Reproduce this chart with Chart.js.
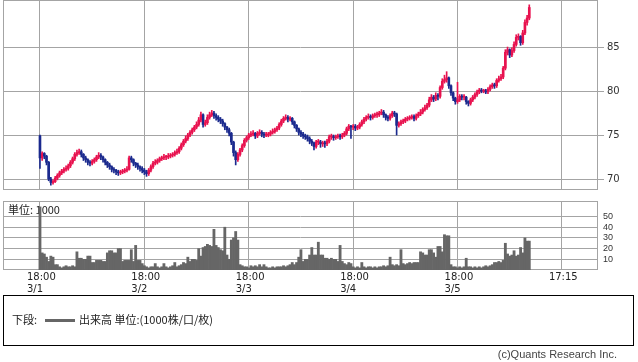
<!DOCTYPE html>
<html>
<head>
<meta charset="utf-8">
<script src="https://cdn.jsdelivr.net/npm/chart.js@4"></script>
<style>
  body { margin: 0; background: #fff; }
  #wrap { position: relative; width: 638px; height: 362px; }
  #wrap canvas { position: absolute; left: 0; top: 0; }
  #legend { position: absolute; left: 3px; top: 295px; width: 629px; height: 49px; border: 1px solid #000;
            font: 11px "Noto Sans CJK JP", sans-serif; color: #222; }
  #legend .lbl { position: absolute; left: 8px; top: 15px; }
  #legend .swatch { position: absolute; left: 41px; top: 23px; width: 30px; height: 3px; background: #666; }
  #legend .txt { position: absolute; left: 75px; top: 15px; }
  #copy { position: absolute; right: 21px; top: 348px; font: 11px "Liberation Sans", sans-serif; color: #444; }
</style>
</head>
<body>
<div id="wrap">
  <canvas id="priceChart" width="638" height="362"></canvas>
  <canvas id="volChart" width="638" height="362"></canvas>
  <div id="legend"><span class="lbl">下段:</span><span class="swatch"></span><span class="txt">出来高 単位:(1000株/口/枚)</span></div>
  <div id="copy">(c)Quants Research Inc.</div>
</div>
<script>
// 30分足, slot 0 = 3/1 18:00
const firstOpen = 74.9;
const closes = [
  72.4, 72.9, 72.6, 71.9, 70.0, 69.6, 69.7, 70.1, 70.4, 70.7,
  70.9, 71.1, 71.2, 71.5, 71.9, 72.3, 72.8, 73.0, 73.1, 72.8,
  72.4, 72.2, 71.9, 71.8, 72.0, 72.2, 72.5, 72.7, 72.5, 72.2,
  71.9, 71.6, 71.4, 71.1, 71.0, 70.8, 70.7, 70.8, 70.9, 71.0,
  71.1, 72.4, 72.2, 71.8, 71.6, 71.4, 71.2, 71.0, 70.8, 70.6,
  71.0, 71.4, 71.8, 71.9, 72.1, 72.3, 72.4, 72.5, 72.5, 72.6,
  72.7, 72.8, 73.0, 73.1, 73.5, 73.9, 74.3, 74.6, 75.0, 75.3,
  75.6, 75.9, 76.2, 76.7, 77.3, 76.2, 76.4, 77.0, 77.3, 77.5,
  77.2, 77.0, 76.8, 76.6, 76.3, 75.9, 75.6, 75.2, 74.2, 73.0,
  72.2, 72.8, 73.3, 73.8, 74.4, 74.7, 75.0, 75.1, 75.2, 74.9,
  75.2, 75.3, 75.1, 75.0, 75.0, 75.1, 75.3, 75.4, 75.6, 75.8,
  76.2, 76.6, 76.9, 77.0, 76.8, 76.9, 76.5, 76.1, 75.7, 75.3,
  75.1, 74.9, 74.8, 74.6, 74.3, 74.1, 73.7, 74.2, 74.2, 74.0,
  74.1, 74.0, 74.3, 74.8, 74.8, 74.7, 74.8, 74.9, 74.8, 75.0,
  75.2, 75.7, 76.0, 75.9, 76.0, 75.8, 75.9, 76.2, 76.5, 76.8,
  77.0, 77.1, 77.0, 77.2, 77.3, 77.3, 77.5, 77.6, 77.3, 77.0,
  76.9, 77.2, 77.5, 77.4, 76.1, 76.3, 76.5, 76.6, 76.8, 76.9,
  77.0, 77.1, 76.9, 77.2, 77.4, 77.6, 77.9, 78.1, 78.4, 79.0,
  79.3, 79.1, 79.5, 79.4, 80.4, 81.1, 81.3, 81.5, 80.6, 79.8,
  79.2, 78.8, 79.0, 79.4, 79.3, 79.3, 78.8, 78.6, 79.0, 79.3,
  79.6, 79.9, 80.1, 80.0, 80.0, 79.9, 80.2, 80.5, 80.7, 80.6,
  81.2, 81.4, 81.6, 82.6, 84.4, 84.7, 84.1, 84.6, 85.3, 86.1,
  86.2, 85.5, 86.6, 87.8, 88.3, 89.5
];
const highs = [
  75.0, 73.1, 73.0, 72.7, 72.0, 70.2, 69.9, 70.3, 70.6, 70.9,
  71.1, 71.3, 71.5, 71.7, 72.1, 72.5, 73.0, 73.3, 73.4, 73.3,
  72.9, 72.6, 72.3, 72.1, 72.2, 72.4, 72.7, 73.0, 72.9, 72.6,
  72.3, 72.0, 71.8, 71.5, 71.3, 71.1, 71.0, 71.0, 71.1, 71.2,
  71.4, 72.6, 72.6, 72.3, 71.9, 71.8, 71.5, 71.4, 71.2, 71.0,
  71.2, 71.6, 72.0, 72.2, 72.3, 72.5, 72.6, 72.8, 72.7, 72.9,
  72.9, 73.0, 73.2, 73.4, 73.7, 74.1, 74.5, 74.9, 75.2, 75.5,
  75.8, 76.1, 76.5, 77.0, 77.6, 77.4, 76.7, 77.3, 77.6, 77.8,
  77.7, 77.4, 77.2, 77.0, 76.8, 76.4, 76.0, 75.8, 75.3, 74.3,
  73.2, 73.0, 73.5, 74.0, 74.6, 74.9, 75.2, 75.4, 75.5, 75.3,
  75.4, 75.6, 75.5, 75.3, 75.3, 75.3, 75.5, 75.7, 75.8, 76.0,
  76.4, 76.8, 77.1, 77.3, 77.2, 77.1, 77.0, 76.6, 76.2, 75.8,
  75.5, 75.3, 75.1, 75.0, 74.8, 74.5, 74.2, 74.4, 74.5, 74.4,
  74.3, 74.3, 74.5, 75.0, 75.1, 75.0, 75.0, 75.1, 75.1, 75.2,
  75.4, 75.9, 76.2, 76.1, 76.2, 76.2, 76.1, 76.4, 76.7, 77.0,
  77.2, 77.4, 77.3, 77.4, 77.5, 77.6, 77.7, 77.9, 77.8, 77.4,
  77.2, 77.4, 77.7, 77.7, 77.5, 76.5, 76.7, 76.8, 77.0, 77.1,
  77.2, 77.3, 77.3, 77.4, 77.6, 77.9, 78.1, 78.4, 78.6, 79.3,
  79.6, 79.5, 79.8, 79.7, 80.6, 81.4, 81.8, 82.2, 81.6, 80.7,
  79.9, 79.3, 81.0, 79.6, 79.6, 79.6, 79.4, 78.9, 79.2, 79.5,
  79.8, 80.1, 80.3, 80.3, 80.2, 80.2, 80.4, 80.7, 80.9, 80.9,
  81.4, 81.7, 81.9, 82.8, 84.7, 85.0, 84.8, 84.9, 85.6, 86.4,
  86.5, 86.3, 86.9, 88.1, 88.6, 89.8
];
const lows = [
  71.2, 72.1, 72.3, 71.6, 69.8, 69.3, 69.4, 69.6, 69.9, 70.2,
  70.5, 70.7, 70.9, 71.0, 71.3, 71.7, 72.1, 72.6, 72.8, 72.5,
  72.1, 71.9, 71.6, 71.5, 71.6, 71.8, 72.0, 72.3, 72.2, 71.9,
  71.6, 71.3, 71.1, 70.8, 70.7, 70.5, 70.4, 70.5, 70.6, 70.7,
  70.8, 71.0, 71.9, 71.5, 71.3, 71.1, 70.9, 70.7, 70.5, 70.3,
  70.4, 70.8, 71.2, 71.6, 71.7, 71.9, 72.1, 72.2, 72.2, 72.3,
  72.4, 72.5, 72.6, 72.8, 72.9, 73.3, 73.7, 74.1, 74.4, 74.8,
  75.1, 75.4, 75.7, 76.0, 76.5, 75.9, 76.0, 76.2, 76.8, 77.1,
  76.9, 76.7, 76.5, 76.3, 76.0, 75.6, 75.3, 74.9, 73.9, 72.6,
  71.6, 72.0, 72.6, 73.1, 73.6, 74.2, 74.5, 74.8, 74.9, 74.6,
  74.7, 75.0, 74.8, 74.7, 74.8, 74.8, 74.9, 75.1, 75.2, 75.4,
  75.6, 76.0, 76.4, 76.7, 76.5, 76.6, 76.2, 75.8, 75.4, 75.0,
  74.8, 74.6, 74.5, 74.3, 74.0, 73.8, 73.3, 73.5, 73.9, 73.6,
  73.7, 73.6, 73.8, 74.1, 74.5, 74.4, 74.5, 74.6, 74.5, 74.6,
  74.8, 75.0, 75.5, 74.6, 75.6, 75.5, 75.6, 75.7, 76.0, 76.3,
  76.6, 76.8, 76.7, 76.8, 77.0, 77.0, 77.1, 77.3, 77.0, 76.7,
  76.6, 76.7, 77.0, 77.1, 75.0, 75.9, 76.1, 76.3, 76.4, 76.6,
  76.7, 76.8, 76.6, 76.7, 77.0, 77.2, 77.4, 77.7, 77.9, 78.2,
  78.8, 78.8, 78.9, 79.0, 79.2, 80.2, 80.9, 81.0, 80.3, 79.5,
  78.9, 78.5, 78.6, 78.8, 79.0, 79.0, 78.5, 78.3, 78.4, 78.8,
  79.1, 79.4, 79.7, 79.8, 79.8, 79.7, 79.7, 80.0, 80.3, 80.3,
  80.4, 81.0, 81.2, 81.4, 82.4, 84.1, 83.8, 83.9, 84.4, 85.1,
  85.8, 85.2, 85.3, 86.4, 87.5, 88.1
];
const volumes = [
  59, 16, 15, 12, 8, 13, 12, 5, 5, 3,
  2, 3, 4, 3, 3, 4, 3, 17, 11, 11,
  10, 10, 13, 13, 7, 7, 9, 9, 9, 8,
  8, 16, 18, 18, 16, 16, 20, 20, 8, 9,
  9, 9, 19, 8, 23, 9, 9, 6, 4, 3,
  2, 3, 3, 6, 3, 2, 3, 6, 3, 2,
  3, 4, 7, 3, 4, 5, 7, 6, 12, 8,
  10, 10, 9, 20, 13, 21, 22, 24, 23, 22,
  38, 23, 21, 19, 18, 40, 14, 10, 28, 30,
  36, 28, 5, 4, 3, 3, 2, 4, 3, 4,
  3, 5, 3, 5, 3, 2, 2, 3, 2, 3,
  3, 3, 4, 3, 4, 5, 7, 5, 7, 12,
  19, 8, 10, 10, 14, 21, 14, 14, 26, 14,
  14, 11, 11, 10, 11, 10, 10, 8, 23, 8,
  6, 5, 7, 6, 3, 2, 3, 2, 7, 3,
  2, 3, 3, 2, 3, 2, 3, 3, 4, 3,
  4, 12, 5, 4, 5, 4, 19, 6, 5, 6,
  7, 6, 7, 7, 7, 17, 16, 14, 14, 19,
  19, 16, 12, 22, 22, 17, 33, 32, 32, 5,
  3, 3, 2, 3, 2, 3, 11, 3, 3, 2,
  3, 2, 3, 2, 3, 4, 3, 4, 5, 7,
  7, 8, 7, 9, 25, 15, 13, 14, 18, 13,
  14, 21, 16, 30, 27, 27
];
const xTickSlots = [0, 48, 96, 144, 192, 240];
const xTickLabels = [['18:00', '3/1'], ['18:00', '3/2'], ['18:00', '3/3'], ['18:00', '3/4'], ['18:00', '3/5'], ['17:15']];
const priceTicks = [70, 75, 80, 85];
const volTicks = [10, 20, 30, 40, 50];

const UP = '#e8124f';
const DOWN = '#1b2a8e';
const GRID = '#a4a4a4';
const X_MIN = -17, X_MAX = 256.6;

const opens = closes.map((c, i) => i === 0 ? firstOpen : closes[i - 1]);
const candleColors = closes.map((c, i) => c >= opens[i] ? UP : DOWN);

const frame = {
  id: 'frame',
  beforeDatasetsDraw(chart) {
    const a = chart.chartArea, ctx = chart.ctx;
    ctx.save();
    ctx.strokeStyle = GRID;
    ctx.lineWidth = 1;
    ctx.strokeRect(Math.round(a.left) + 0.5, Math.round(a.top) + 0.5,
      Math.round(a.right - a.left) - 1, Math.round(a.bottom - a.top) - 1);
    const label = chart.options.plugins.unitLabel;
    if (label) {
      ctx.fillStyle = '#222';
      ctx.font = '11px "Noto Sans CJK JP", sans-serif';
      ctx.textBaseline = 'middle';
      ctx.fillText(label, a.left + 5, a.top + 9);
    }
    ctx.restore();
  }
};

function setTicks(values) {
  return axis => { axis.ticks = values.map(v => ({ value: v })); };
}

new Chart(document.getElementById('priceChart'), {
  type: 'bar',
  data: {
    datasets: [{
      data: closes.map((c, i) => ({ x: i, y: [lows[i], highs[i]] })),
      backgroundColor: candleColors,
      barThickness: 1,
      grouped: false
    }, {
      data: closes.map((c, i) => ({ x: i, y: [Math.min(opens[i], c), Math.max(opens[i], c)] })),
      backgroundColor: candleColors,
      barThickness: 2,
      minBarLength: 1,
      grouped: false
    }]
  },
  options: {
    responsive: false,
    animation: false,
    layout: { padding: { left: 3, top: 0, right: 0, bottom: 172 } },
    plugins: { legend: { display: false }, tooltip: { enabled: false } },
    scales: {
      x: {
        type: 'linear', min: X_MIN, max: X_MAX, offset: false,
        afterBuildTicks: setTicks(xTickSlots),
        afterFit: s => { s.height = 0; s.paddingLeft = 0; s.paddingRight = 0; },
        ticks: { display: false },
        grid: { color: GRID, drawTicks: false, offset: false },
        border: { display: false }
      },
      y: {
        position: 'right', min: 68.75, max: 90.35,
        afterBuildTicks: setTicks(priceTicks),
        afterFit: s => { s.width = 40; s.paddingTop = 0; s.paddingBottom = 0; },
        ticks: { color: '#333', padding: 3, font: { family: 'DejaVu Sans', size: 10 } },
        grid: { color: GRID, tickLength: 6 },
        border: { display: false }
      }
    }
  },
  plugins: [frame]
});

new Chart(document.getElementById('volChart'), {
  type: 'bar',
  data: {
    datasets: [{
      data: volumes.map((v, i) => ({ x: i, y: v })),
      backgroundColor: '#666',
      barPercentage: 1,
      categoryPercentage: 1
    }]
  },
  options: {
    responsive: false,
    animation: false,
    layout: { padding: { left: 3, top: 201, right: 0, bottom: 0 } },
    plugins: { legend: { display: false }, tooltip: { enabled: false }, unitLabel: '単位: 1000' },
    scales: {
      x: {
        type: 'linear', min: X_MIN, max: X_MAX, offset: false,
        afterBuildTicks: setTicks(xTickSlots),
        afterFit: s => { s.height = 92; s.paddingLeft = 0; s.paddingRight = 0; },
        ticks: {
          color: '#222', padding: 2, align: 'start', labelOffset: -13, maxRotation: 0, autoSkip: false,
          font: { family: 'DejaVu Sans', size: 10, lineHeight: 1.15 },
          callback: (v) => xTickLabels[xTickSlots.indexOf(v)]
        },
        grid: { color: GRID, drawTicks: false, offset: false },
        border: { display: false }
      },
      y: {
        position: 'right', min: 0, max: 64.5,
        afterBuildTicks: setTicks(volTicks),
        afterFit: s => { s.width = 40; s.paddingTop = 0; s.paddingBottom = 0; },
        ticks: { color: '#333', padding: 5, font: { family: 'Liberation Sans', size: 9 } },
        grid: { color: GRID, drawTicks: false },
        border: { display: false }
      }
    }
  },
  plugins: [frame]
});
</script>
</body>
</html>
